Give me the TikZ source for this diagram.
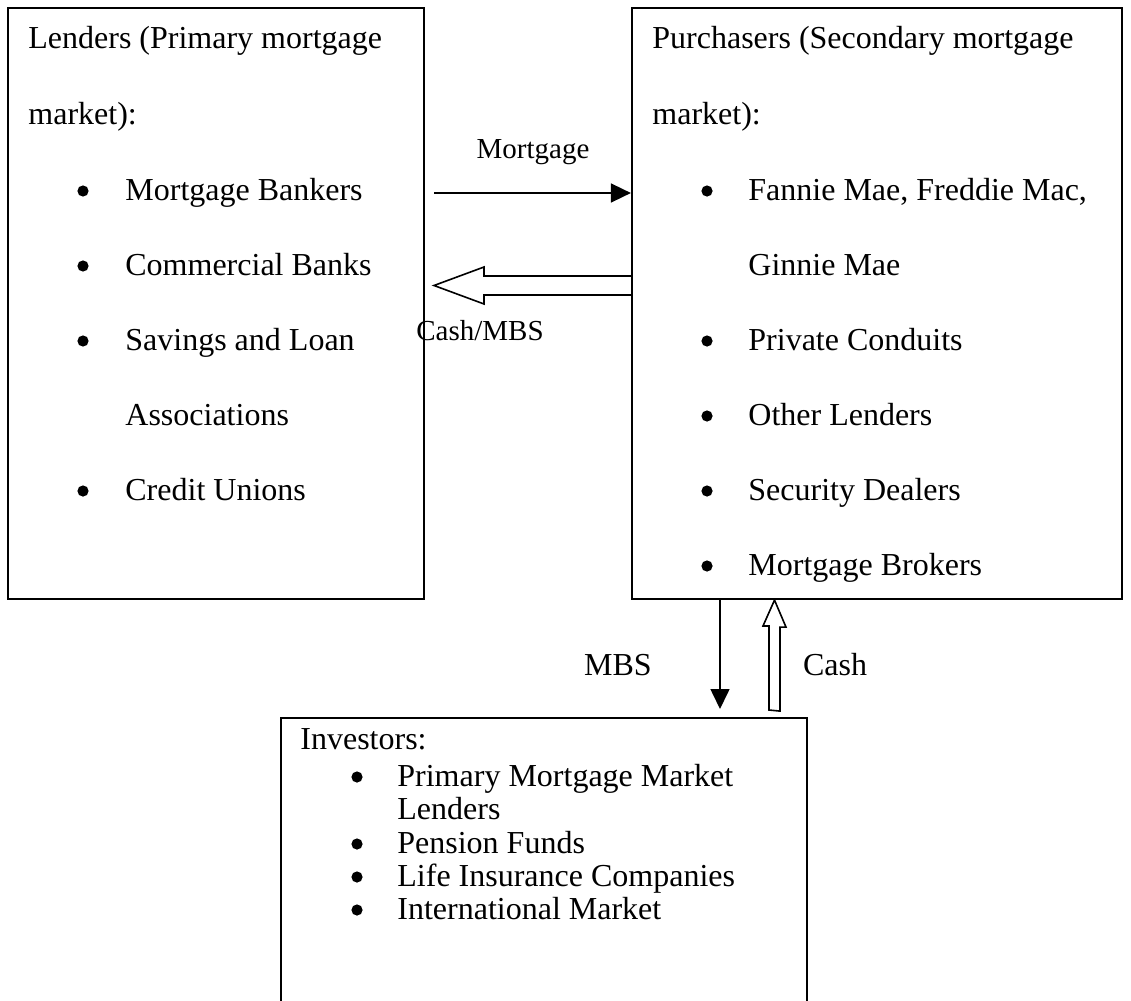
\documentclass[tikz,border=0pt]{standalone}
\usepackage{fontspec}
\setmainfont{Liberation Serif}
\usepackage{tikz}
\usetikzlibrary{arrows.meta}

\tikzset{
  box/.style={draw, line width=1.1pt, rectangle, inner sep=0pt},
  txt/.style={anchor=base west, inner sep=0pt, font=\fontsize{16}{19}\selectfont},
  dot/.style={circle, fill, inner sep=0pt, minimum size=5.6pt},
  lbl/.style={anchor=base, inner sep=0pt, font=\fontsize{14.5}{17}\selectfont},
  flow/.style={line width=0.8pt, -{Triangle[length=10pt,width=9.5pt]}},
  hollow/.style={line width=0.8pt, fill=white, line join=miter}
}

\begin{document}
\begin{tikzpicture}[x=0.5pt, y=-0.5pt]
  \useasboundingbox (0,0) rectangle (1131,1001);

  % the three boxes
  \node[box, minimum width=208pt, minimum height=295.5pt] (lenders) at (216,303.5) {};
  \node[box, minimum width=245pt, minimum height=295.5pt] (purch) at (877,303.5) {};
  \node[box, minimum width=263pt, minimum height=160pt] (invest) at (544,878) {};

  % primary market
  \node[txt] (lhead1) at (28,48) {Lenders (Primary mortgage};
  \node[txt] (lhead2) at (28,124) {market):};
  \foreach \y/\t [count=\i] in {200/Mortgage Bankers, 275/Commercial Banks,
      350/Savings and Loan, 500/Credit Unions} {
    \node[dot] (lb\i) at (83,\y-9) {};
    \node[txt] (li\i) at (125,\y) {\t};
  }
  \node[txt] (li5) at (125,425) {Associations};

  % secondary market
  \node[txt] (phead1) at (652,48) {Purchasers (Secondary mortgage};
  \node[txt] (phead2) at (652,124) {market):};
  \node[dot] (pb0) at (707,191) {};
  \node[txt] (pi0) at (748,200) {Fannie Mae, Freddie Mac,};
  \node[txt] (pi00) at (748,275) {Ginnie Mae};
  \foreach \y/\t [count=\i] in {350/Private Conduits, 425/Other Lenders,
      500/Security Dealers, 575/Mortgage Brokers} {
    \node[dot] (pb\i) at (707,\y-9) {};
    \node[txt] (pi\i) at (748,\y) {\t};
  }

  % investors
  \node[txt] (ihead) at (300,749) {Investors:};
  \node[dot] (ib0) at (357,777) {};
  \node[txt] (ii0) at (397,786) {Primary Mortgage Market};
  \node[txt] (ii00) at (397,819) {Lenders};
  \foreach \y/\t [count=\i] in {853/Pension Funds, 886/Life Insurance Companies,
      919/International Market} {
    \node[dot] (ib\i) at (357,\y-9) {};
    \node[txt] (ii\i) at (397,\y) {\t};
  }

  % lenders <-> purchasers
  \coordinate (mtail) at (434,193);
  \draw[flow] (mtail) -- (mtail -| purch.west);
  \node[lbl] (mlbl) at (533,158) {Mortgage};
  \draw[hollow] (purch.west |- 0,276) -- (484,276) -- (484,267) -- (434,285.5)
    -- (484,304) -- (484,295) -- (purch.west |- 0,295);
  \node[lbl] (clbl) at (480,340) {Cash/MBS};

  % purchasers <-> investors
  \coordinate (mbstip) at (720,709);
  \draw[flow] (purch.south -| mbstip) -- (mbstip);
  \node[txt, anchor=base] (mbslbl) at (618,675) {MBS};
  \coordinate (cfoot) at (774.5,710);
  \draw[hollow] (cfoot) ++(-5.5,0) -- ++(0,-84) -- ++(-6,0) -- (purch.south -| cfoot)
    -- ++(11.5,27) -- ++(-6,0) -- ++(0,84) -- cycle;
  \node[txt, anchor=base] (cashlbl) at (835,675) {Cash};
\end{tikzpicture}
\end{document}
